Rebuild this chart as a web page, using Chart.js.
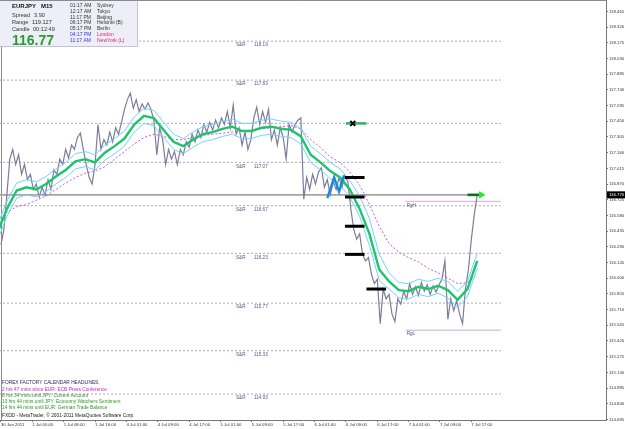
<!DOCTYPE html>
<html>
<head>
<meta charset="utf-8">
<title>EURJPY M15</title>
<script src="https://cdn.jsdelivr.net/npm/chart.js@4.4.0/dist/chart.umd.min.js"></script>
<style>
    html, body { margin: 0; padding: 0; background: #fff; }
    #mt4Chart { display: block; }
</style>
</head>
<body>
<canvas id="mt4Chart" width="625" height="429"></canvas>
<script>
// x axis = M15 bar number, y axis = price
const timeTicks = [0, 32, 64, 96, 128, 160, 192, 224, 256, 288, 320, 352, 384, 416, 448, 480];
const timeLabels = ['30 Jun 2011', '1 Jul 00:00', '1 Jul 08:00', '1 Jul 16:00', '4 Jul 01:00', '4 Jul 09:00',
    '4 Jul 17:00', '5 Jul 01:00', '5 Jul 09:00', '5 Jul 17:00', '6 Jul 01:00', '6 Jul 09:00',
    '6 Jul 17:00', '7 Jul 01:00', '7 Jul 09:00', '7 Jul 17:00'];

const priceTicks = [118.465, 118.320, 118.175, 118.030, 117.885, 117.740, 117.595, 117.450, 117.305,
    117.160, 117.015, 116.870, 116.725, 116.580, 116.435, 116.290, 116.145, 116.000, 115.855,
    115.710, 115.565, 115.420, 115.275, 115.130, 114.985, 114.840, 114.695];

// close prices, one every 3 bars
const closeStep = 3;
const closePrices = [
    116.31, 116.45, 116.77, 117.10, 117.19, 117.05, 117.14, 116.96, 117.05, 116.91,
    116.96, 116.82, 116.87, 116.75, 116.84, 116.77, 116.91, 116.82, 117.00, 116.96,
    117.10, 117.05, 117.19, 117.11, 117.23, 117.19, 117.30, 117.34, 117.19, 117.05,
    116.93, 116.87, 117.05, 117.42, 117.19, 117.28, 117.23, 117.35, 117.26, 117.39,
    117.33, 117.44, 117.56, 117.65, 117.71, 117.57, 117.65, 117.54, 117.61, 117.56,
    117.62, 117.56, 117.46, 117.14, 117.39, 117.28, 117.05, 117.19, 117.10, 117.17,
    117.05, 117.19, 117.14, 117.26, 117.21, 117.33, 117.26, 117.37, 117.30, 117.42,
    117.35, 117.44, 117.37, 117.46, 117.39, 117.48, 117.42, 117.54, 117.39, 117.60,
    117.33, 117.39, 117.23, 117.35, 117.19, 117.28, 117.48, 117.58, 117.42, 117.54,
    117.44, 117.56, 117.28, 117.37, 117.23, 117.39, 117.30, 117.10, 117.42, 117.35,
    117.42, 117.46, 117.48, 116.73, 116.93, 116.82, 116.96, 116.87, 116.98, 117.02,
    116.84, 116.91, 116.77, 116.89, 116.82, 116.93, 116.84, 116.95, 116.89, 116.64,
    116.45, 116.36, 116.41, 116.22, 116.16, 116.19, 116.04, 115.95, 115.99, 115.58,
    115.90, 115.81, 115.85, 115.67, 115.60, 115.81, 115.76, 115.88, 115.81, 115.95,
    115.85, 115.92, 115.84, 115.96, 115.88, 115.94, 115.85, 115.93, 115.87, 115.94,
    115.99, 116.16, 115.62, 115.81, 115.70, 115.79, 115.67, 115.58, 115.90, 116.08,
    116.36, 116.59, 116.77
];

// moving averages, one every 10 bars starting at bar -4
const maStart = -4;
const maStep = 10;
const maFast = [
    116.41, 116.64, 116.81, 116.84, 116.82, 116.87, 116.94, 117.00, 117.08, 117.10,
    117.07, 117.16, 117.22, 117.29, 117.42, 117.50, 117.48, 117.37, 117.26, 117.22,
    117.28, 117.33, 117.35, 117.38, 117.40, 117.36, 117.36, 117.39, 117.40, 117.38,
    117.37, 117.31, 117.14, 117.07, 116.99, 116.93, 116.82, 116.64, 116.41, 116.08,
    115.97, 115.89, 115.88, 115.92, 115.90, 115.93, 115.89, 115.80, 115.90, 116.16
];
const maUpper = [
    116.48, 116.71, 116.88, 116.91, 116.89, 116.94, 117.01, 117.07, 117.15, 117.17,
    117.14, 117.23, 117.29, 117.36, 117.49, 117.57, 117.55, 117.44, 117.33, 117.29,
    117.35, 117.40, 117.42, 117.45, 117.47, 117.43, 117.43, 117.46, 117.47, 117.45,
    117.44, 117.38, 117.22, 117.15, 117.07, 117.01, 116.90, 116.76, 116.55, 116.22,
    116.05, 115.96, 115.95, 115.99, 115.97, 116.00, 115.97, 115.88, 115.97, 116.23
];
const maLower = [
    116.34, 116.57, 116.74, 116.77, 116.75, 116.80, 116.87, 116.93, 117.01, 117.03,
    117.00, 117.09, 117.15, 117.22, 117.35, 117.43, 117.41, 117.30, 117.19, 117.15,
    117.21, 117.26, 117.28, 117.31, 117.33, 117.29, 117.29, 117.32, 117.33, 117.31,
    117.30, 117.24, 117.07, 117.00, 116.92, 116.86, 116.75, 116.57, 116.30, 115.98,
    115.90, 115.82, 115.81, 115.85, 115.83, 115.86, 115.82, 115.73, 115.83, 116.09
];
const maSlow = [
    116.48, 116.61, 116.66, 116.68, 116.72, 116.76, 116.82, 116.88, 116.93, 116.97,
    116.99, 117.03, 117.10, 117.17, 117.24, 117.30, 117.33, 117.31, 117.28, 117.28,
    117.30, 117.32, 117.33, 117.34, 117.35, 117.36, 117.37, 117.38, 117.39, 117.40,
    117.41, 117.38, 117.28, 117.21, 117.12, 117.07, 116.98, 116.86, 116.68, 116.48,
    116.32, 116.24, 116.19, 116.15, 116.09, 116.05, 116.00, 115.95, 115.96, 116.03
];

// zigzag leg
const zigzagBars = [333, 340, 345, 350];
const zigzagPrices = [116.74, 116.93, 116.80, 116.95];

// pivot dashes
const pivotBars = [351, 351, 351, 351, 373];
const pivotPrices = [116.93, 116.75, 116.48, 116.22, 115.90];
const pivotLength = 20;

// S&R levels
const srLevels = [118.19, 117.83, 117.43, 117.07, 116.67, 116.23, 115.77, 115.33, 114.93];
const srLabels = ['118.19', '117.83', '', '117.07', '116.67', '116.23', '115.77', '115.33', '114.93'];

const crossLevel = 117.43;
const crossBars = [352, 373];
const crossMarkBar = 359;

const rangeHigh = 116.71;
const rangeLow = 115.52;
const rangeStartBar = 413;
const levelEndBar = 510;

const bidPrice = 116.77;
const lastBar = 486;

const headlines = [
    ['FOREX FACTORY CALENDAR HEADLINES:', '#2b2b5a'],
    ['2 hrs 47 mins since EUR: ECB Press Conference', '#cc22cc'],
    ['8 hrs 34 mins until JPY: Current Account', '#2a9a2a'],
    ['13 hrs 44 mins until JPY: Economy Watchers Sentiment', '#2a9a2a'],
    ['14 hrs 44 mins until EUR: German Trade Balance', '#2a9a2a']
];
const sessions = [
    ['01:17 AM', 'Sydney'], ['12:17 AM', 'Tokyo'], ['11:17 PM', 'Beijing'],
    ['06:17 PM', 'Helsinki (B)'], ['05:17 PM', 'Berlin'], ['04:17 PM', 'London'],
    ['11:17 AM', 'NewYork (L)']
];

const FONT = '"Liberation Sans", Arial, sans-serif';

function seriesPoints(values, start, step) {
    return values.map((v, i) => ({x: start + i * step, y: v}));
}

function hLine(level, from, to) {
    return [{x: from, y: level}, {x: to, y: level}];
}

function lineSet(data, color, width, order, extra) {
    return Object.assign({
        type: 'line', data: data, borderColor: color, borderWidth: width,
        pointRadius: 0, fill: false, tension: 0, order: order
    }, extra || {});
}

const datasets = [];

// S&R dashed levels
srLevels.forEach(level => {
    datasets.push(lineSet(hLine(level, -2, levelEndBar), '#a8a8b8', 1, 30, {borderDash: [2, 2]}));
});
datasets.push(lineSet(hLine(rangeHigh, rangeStartBar, levelEndBar), '#e6a6d6', 1, 29));
datasets.push(lineSet(hLine(rangeLow, rangeStartBar, levelEndBar), '#b4b4f0', 1, 29));
datasets.push(lineSet(hLine(bidPrice, -2, lastBar - 10), '#a4a4a4', 1.6, 28));

// price and averages
datasets.push(lineSet(seriesPoints(closePrices, 0, closeStep), '#7c7c9c', 1.2, 20));
datasets.push(lineSet(seriesPoints(maSlow, maStart, maStep), '#c458d4', 1, 15, {borderDash: [2, 2]}));
datasets.push(lineSet(seriesPoints(maUpper, maStart, maStep), '#72d2ff', 1, 14));
datasets.push(lineSet(seriesPoints(maLower, maStart, maStep), '#72d2ff', 1, 14));
datasets.push(lineSet(seriesPoints(maFast, maStart, maStep), '#1ec46c', 2.4, 12));

// zigzag and pivots
datasets.push(lineSet(zigzagBars.map((b, i) => ({x: b, y: zigzagPrices[i]})), '#1a8ad6', 2.4, 8));
pivotPrices.forEach((p, i) => {
    datasets.push(lineSet(hLine(p, pivotBars[i], pivotBars[i] + pivotLength), '#000000', 3, 6));
});
datasets.push(lineSet(hLine(crossLevel, crossBars[0], crossBars[1]), '#2fb46a', 2.6, 7));
datasets.push(lineSet([{x: crossMarkBar, y: crossLevel}], '#000000', 2, 5, {
    showLine: false, pointRadius: 3.5, pointStyle: 'crossRot', pointBorderWidth: 2
}));

// bid arrow
datasets.push(lineSet(hLine(bidPrice, lastBar - 10, lastBar + 2), '#0d6b2d', 2.6, 4));
datasets.push(lineSet([{x: lastBar + 4, y: bidPrice}], '#22ee22', 1, 3, {
    showLine: false, pointRadius: 3.5, pointStyle: 'triangle', rotation: 90,
    pointBackgroundColor: '#22ee22', pointBorderColor: '#22ee22'
}));

const overlayPlugin = {
    id: 'mt4Overlay',
    beforeDraw(chart) {
        const ctx = chart.ctx;
        const a = chart.chartArea;
        ctx.save();
        ctx.fillStyle = '#ffffff';
        ctx.fillRect(0, 0, chart.width, chart.height);
        ctx.strokeStyle = '#8a8a8a';
        ctx.lineWidth = 1;
        ctx.beginPath();
        ctx.moveTo(a.left + 1.5, a.bottom);
        ctx.lineTo(a.left + 1.5, a.top + 0.5);
        ctx.lineTo(a.right, a.top + 0.5);
        ctx.stroke();
        ctx.restore();
    },
    afterDatasetsDraw(chart) {
        const ctx = chart.ctx;
        const x = chart.scales.x;
        const y = chart.scales.y;
        ctx.save();
        ctx.textBaseline = 'middle';
        ctx.font = '4.6px ' + FONT;
        ctx.fillStyle = '#55558a';
        srLevels.forEach((level, i) => {
            if (!srLabels[i]) return;
            const py = y.getPixelForValue(level) + 4;
            ctx.fillText('S&R', 236, py);
            ctx.fillText(srLabels[i], 254, py);
        });
        ctx.fillStyle = '#555566';
        ctx.fillText('RgH', x.getPixelForValue(rangeStartBar) + 1, y.getPixelForValue(rangeHigh) + 4);
        ctx.fillText('RgL', x.getPixelForValue(rangeStartBar) + 1, y.getPixelForValue(rangeLow) + 4);

        // calendar headlines
        const rows = [383, 389.3, 395.6, 401.6, 407.3];
        ctx.font = '4.8px ' + FONT;
        headlines.forEach((h, i) => {
            ctx.fillStyle = h[1];
            ctx.fillText(h[0], 2, rows[i]);
        });
        ctx.fillStyle = '#222222';
        ctx.fillText('FXDD - MetaTrader, \u00a9 2001-2011 MetaQuotes Software Corp.', 2, 416);
        ctx.restore();
    },
    afterDraw(chart) {
        const ctx = chart.ctx;
        const y = chart.scales.y;
        ctx.save();
        // info box
        ctx.fillStyle = '#eeeef8';
        ctx.fillRect(0, 0, 138, 47);
        ctx.strokeStyle = '#c4c4d4';
        ctx.lineWidth = 1;
        ctx.beginPath();
        ctx.moveTo(137.5, 0);
        ctx.lineTo(137.5, 46.5);
        ctx.lineTo(0, 46.5);
        ctx.stroke();
        ctx.strokeStyle = '#8a8a8a';
        ctx.beginPath();
        ctx.moveTo(0, 0.5);
        ctx.lineTo(138, 0.5);
        ctx.stroke();

        ctx.textBaseline = 'middle';
        ctx.fillStyle = '#111111';
        ctx.font = 'bold 6px ' + FONT;
        ctx.fillText('EURJPY   M15', 12, 6);
        ctx.font = '5.6px ' + FONT;
        ctx.fillStyle = '#333333';
        ctx.fillText('Spread', 12, 15);
        ctx.fillText('3.90', 34, 15);
        ctx.fillText('Range', 12, 22.5);
        ctx.fillText('119.127', 32, 22.5);
        ctx.fillText('Candle', 12, 29);
        ctx.fillText('00:12:49', 33, 29);
        ctx.font = 'bold 14px ' + FONT;
        ctx.fillStyle = '#2c9a2c';
        ctx.textBaseline = 'alphabetic';
        ctx.fillText(bidPrice.toFixed(2), 12, 45);

        ctx.textBaseline = 'middle';
        ctx.font = '5px ' + FONT;
        sessions.forEach((s, i) => {
            const py = 6 + i * 5.7;
            ctx.fillStyle = i < 5 ? '#333333' : '#3434dd';
            ctx.fillText(s[0], 70, py);
            ctx.fillStyle = i < 5 ? '#333333' : '#e0226e';
            ctx.fillText(s[1], 97, py);
        });

        // bid label on price scale
        const by = y.getPixelForValue(bidPrice);
        ctx.fillStyle = '#000000';
        ctx.fillRect(607, by - 3.5, 18, 7);
        ctx.fillStyle = '#ffffff';
        ctx.font = '4.3px ' + FONT;
        ctx.fillText(bidPrice.toFixed(3), 609, by);
        ctx.restore();
    }
};

new Chart(document.getElementById('mt4Chart'), {
    type: 'line',
    data: {datasets: datasets},
    options: {
        responsive: false,
        animation: false,
        devicePixelRatio: 1,
        layout: {padding: 0, autoPadding: false},
        plugins: {legend: {display: false}, tooltip: {enabled: false}},
        scales: {
            x: {
                type: 'linear',
                min: -1,
                max: 617.4,
                afterBuildTicks: s => { s.ticks = timeTicks.map(v => ({value: v})); },
                afterFit: s => { s.height = 9; s.paddingLeft = 0; s.paddingRight = 0; },
                ticks: {
                    autoSkip: false, maxRotation: 0, align: 'start', padding: 0,
                    color: '#333333', font: {family: FONT, size: 4.3},
                    callback: (v, i) => timeLabels[i]
                },
                grid: {drawOnChartArea: false, drawTicks: true, tickLength: 2, color: '#777777'},
                border: {display: true, color: '#777777', width: 1}
            },
            y: {
                type: 'linear',
                position: 'right',
                min: 114.69,
                max: 118.57,
                afterBuildTicks: s => { s.ticks = priceTicks.map(v => ({value: v})); },
                afterFit: s => { s.width = 19; s.paddingTop = 0; s.paddingBottom = 0; },
                ticks: {
                    padding: 1, color: '#333333', font: {family: FONT, size: 4.3},
                    callback: v => v.toFixed(3)
                },
                grid: {drawOnChartArea: false, drawTicks: true, tickLength: 2, color: '#777777'},
                border: {display: true, color: '#777777', width: 1}
            }
        }
    },
    plugins: [overlayPlugin]
});
</script>
</body>
</html>
